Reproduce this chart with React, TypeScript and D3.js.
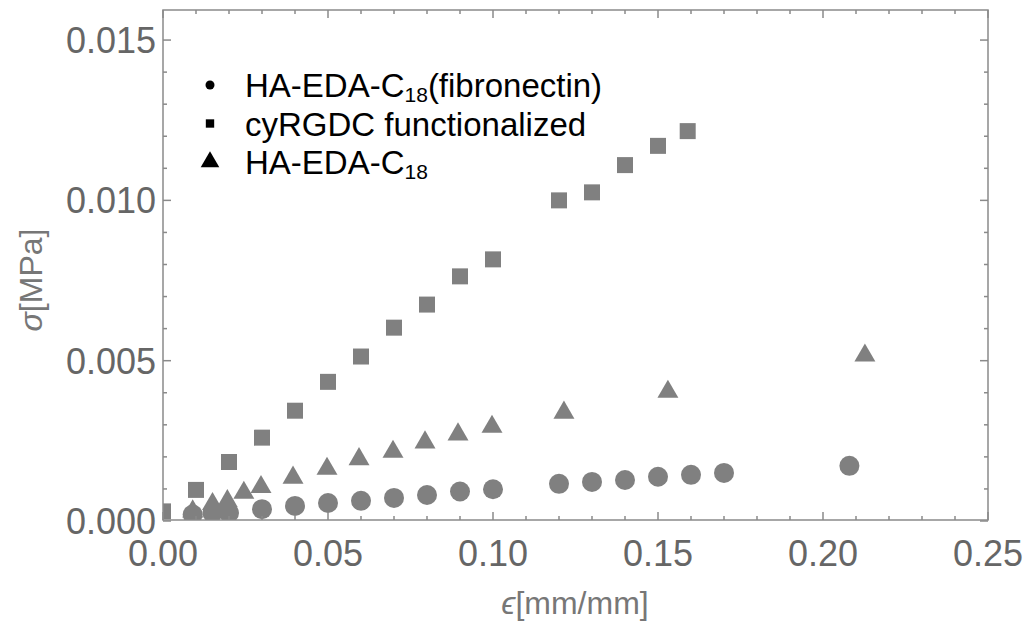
import { scaleLinear, symbol, symbolTriangle, symbolSquare, range } from "d3";

// stress-strain readings
const fibroStrain = [0.009, 0.015, 0.02, 0.03, 0.04, 0.05, 0.06, 0.07, 0.08, 0.09, 0.10, 0.12, 0.13, 0.14, 0.15, 0.16, 0.17, 0.208];
const fibroStress = [0.0002, 0.00025, 0.00025, 0.00037, 0.00047, 0.00056, 0.00063, 0.00072, 0.00081, 0.00092, 0.00099, 0.00116, 0.00122, 0.00128, 0.00138, 0.00144, 0.0015, 0.00172];

const rgdStrain = [0, 0.01, 0.02, 0.03, 0.04, 0.05, 0.06, 0.07, 0.08, 0.09, 0.10, 0.12, 0.13, 0.14, 0.15, 0.159];
const rgdStress = [0.0003, 0.00097, 0.00184, 0.0026, 0.00344, 0.00434, 0.00513, 0.00603, 0.00675, 0.00763, 0.00816, 0.01, 0.01025, 0.0111, 0.0117, 0.01216];

const haStrain = [0.009, 0.015, 0.0195, 0.0245, 0.0297, 0.0394, 0.0497, 0.0594, 0.0697, 0.0794, 0.0894, 0.0997, 0.1215, 0.153, 0.2127];
const haStress = [0.0003, 0.00053, 0.00062, 0.00088, 0.00106, 0.00135, 0.00163, 0.00193, 0.00216, 0.00245, 0.0027, 0.00294, 0.00338, 0.00403, 0.00516];

const xTicks = [0, 0.05, 0.1, 0.15, 0.2, 0.25];
const yTicks = [0, 0.005, 0.01, 0.015];

const W = 1031, H = 625;
const left = 163, right = 988, top = 10, bottom = 520;
const grey = "#808080";
const font = "'Liberation Sans', Arial, sans-serif";

export default function App() {
  const x = scaleLinear().domain([0, 0.25]).range([left, right]);
  const y = scaleLinear().domain([0, 0.0159375]).range([bottom + 1, top]);

  const tri = symbol().type(symbolTriangle).size(190)();
  const sq = symbol().type(symbolSquare).size(256)();
  const legTri = symbol().type(symbolTriangle).size(150)();
  const legSq = symbol().type(symbolSquare).size(70)();

  const xMinor = range(0, 0.2501, 0.01).filter((v) => Math.abs(v / 0.05 - Math.round(v / 0.05)) > 1e-6);
  const yMinor = range(0, 0.0159, 0.001).filter((v) => Math.abs(v / 0.005 - Math.round(v / 0.005)) > 1e-6);

  const legend = [
    { mark: <circle r={4.5} />, label: "HA-EDA-C", sub: "18", rest: "(fibronectin)" },
    { mark: <path d={legSq} />, label: "cyRGDC functionalized", sub: "", rest: "" },
    { mark: <path d={legTri} />, label: "HA-EDA-C", sub: "18", rest: "" },
  ];

  return (
    <svg width={W} height={H} style={{ position: "absolute", left: 0, top: 0, background: "#fff" }}>
      <defs>
        <clipPath id="plot">
          <rect x={left} y={top} width={right - left} height={bottom - top} />
        </clipPath>
      </defs>

      <g clipPath="url(#plot)" fill={grey}>
        {fibroStrain.map((d, i) => (
          <circle key={"c" + i} cx={x(d)} cy={y(fibroStress[i])} r={10} />
        ))}
        {haStrain.map((d, i) => (
          <path key={"t" + i} d={tri} transform={`translate(${x(d)},${y(haStress[i])})`} />
        ))}
        {rgdStrain.map((d, i) => (
          <path key={"s" + i} d={sq} transform={`translate(${x(d)},${y(rgdStress[i])})`} />
        ))}
      </g>

      {/* frame and ticks */}
      <g stroke="#8a8a8a" strokeWidth={1.5} fill="none">
        <rect x={left} y={top} width={right - left} height={bottom - top} />
        {xTicks.map((t) => (
          <g key={"xt" + t}>
            <line x1={x(t)} x2={x(t)} y1={bottom} y2={bottom - 8} />
            <line x1={x(t)} x2={x(t)} y1={top} y2={top + 8} />
          </g>
        ))}
        {xMinor.map((t) => (
          <g key={"xm" + t}>
            <line x1={x(t)} x2={x(t)} y1={bottom} y2={bottom - 4} />
            <line x1={x(t)} x2={x(t)} y1={top} y2={top + 4} />
          </g>
        ))}
        {yTicks.map((t) => (
          <g key={"yt" + t}>
            <line x1={left} x2={left + 8} y1={y(t)} y2={y(t)} />
            <line x1={right} x2={right - 8} y1={y(t)} y2={y(t)} />
          </g>
        ))}
        {yMinor.map((t) => (
          <g key={"ym" + t}>
            <line x1={left} x2={left + 4} y1={y(t)} y2={y(t)} />
            <line x1={right} x2={right - 4} y1={y(t)} y2={y(t)} />
          </g>
        ))}
      </g>

      <g fill="#666" fontFamily={font} fontSize={36}>
        {xTicks.map((t) => (
          <text key={"xl" + t} x={x(t)} y={566} textAnchor="middle">
            {t.toFixed(2)}
          </text>
        ))}
        {yTicks.map((t) => (
          <text key={"yl" + t} x={156} y={y(t) + 13} textAnchor="end">
            {t.toFixed(3)}
          </text>
        ))}
      </g>

      <text x={575} y={614} textAnchor="middle" fill="#777" fontFamily={font} fontSize={32}>
        <tspan fontStyle="italic">ϵ</tspan>[mm/mm]
      </text>
      <text
        transform={`translate(42,${(top + bottom) / 2 + 15}) rotate(-90)`}
        textAnchor="middle"
        fill="#777"
        fontFamily={font}
        fontSize={32}
      >
        <tspan fontStyle="italic">σ</tspan>[MPa]
      </text>

      {/* legend */}
      <g fontFamily={font} fontSize={33} fill="#000">
        {legend.map((l, i) => {
          const by = 97 + i * 38.5;
          return (
            <g key={"lg" + i}>
              <g transform={`translate(210,${by - 12})`}>{l.mark}</g>
              <text x={245} y={by}>
                {l.label}
                {l.sub && (
                  <tspan fontSize={21} dy={5}>
                    {l.sub}
                  </tspan>
                )}
                {l.rest && <tspan dy={-5}>{l.rest}</tspan>}
              </text>
            </g>
          );
        })}
      </g>
    </svg>
  );
}
